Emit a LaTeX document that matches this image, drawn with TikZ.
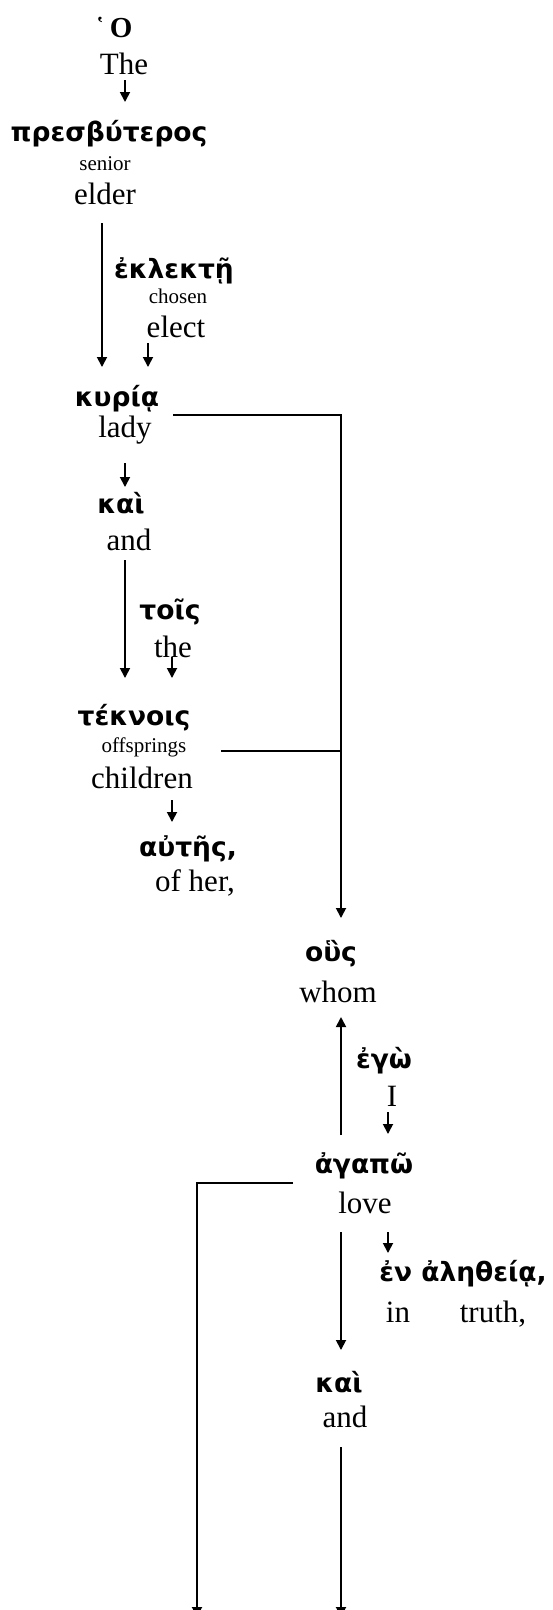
\documentclass[tikz,border=0pt]{standalone}
\usepackage{fontspec}
\setmainfont{Liberation Serif}
\newfontfamily\grk[Script=Greek]{DejaVu Sans Bold}
\usetikzlibrary{arrows.meta,calc}
\tikzset{
  gk/.style={font=\grk\fontsize{26.5}{30}\selectfont, anchor=base, inner sep=0pt},
  gl/.style={font=\fontsize{31}{34}\selectfont, anchor=base, inner sep=0pt},
  sm/.style={font=\fontsize{21}{24}\selectfont, anchor=base, inner sep=0pt},
  arr/.style={line width=1.8pt, -{Triangle[length=10pt,width=10pt]}},
  ln/.style={line width=1.6pt},
}
\begin{document}
\begin{tikzpicture}[x=1pt,y=-1pt]
\useasboundingbox (0,0) rectangle (552,1610);
% words
\node[anchor=base, inner sep=0pt, font=\bfseries\fontsize{29}{32}\selectfont] (ho) at (114,37) {῾\,Ο};
\node[gl] (the) at (124,74) {The};
\node[gk] (presb) at (109,141) {πρεσβύτερος};
\node[sm] (senior) at (105,170) {senior};
\node[gl] (elder) at (105,204) {elder};
\node[gk] (eklekte) at (174,278) {ἐκλεκτῇ};
\node[sm] (chosen) at (178,303) {chosen};
\node[gl] (elect) at (176,337) {elect};
\node[gk] (kyria) at (117,406) {κυρίᾳ};
\node[gl] (lady) at (125,437) {lady};
\node[gk] (kai1) at (121,513) {καὶ};
\node[gl] (and1) at (129,550) {and};
\node[gk] (tois) at (170,619) {τοῖς};
\node[gl] (the2) at (173,657) {the};
\node[gk] (teknois) at (134,725) {τέκνοις};
\node[sm] (offsprings) at (144,752) {offsprings};
\node[gl] (children) at (142,788) {children};
\node[gk] (autes) at (188,856) {αὐτῆς,};
\node[gl] (ofher) at (195,891) {of her,};
\node[gk] (hous) at (331,961) {οὓς};
\node[gl] (whom) at (338,1002) {whom};
\node[gk] (ego) at (384,1068) {ἐγὼ};
\node[gl] (I) at (392,1106) {I};
\node[gk] (agapo) at (364,1173) {ἀγαπῶ};
\node[gl] (love) at (365,1213) {love};
\node[gk] (enal) at (463,1281) {ἐν ἀληθείᾳ,};
\node[gl] (in) at (398,1322) {in};
\node[gl] (truth) at (493,1322) {truth,};
\node[gk] (kai2) at (339,1392) {καὶ};
\node[gl] (and2) at (345,1427) {and};
\coordinate (vline) at ($(hous.base)+(10,0)$);
\coordinate (bottomL) at (197,1617);
\coordinate (bottomR) at ($(and2.base)+(-4,190)$);
% connectors
\draw[arr] ($(the.base)+(1,6)$) -- ($(presb.base)+(16,-39)$);
\draw[arr] ($(elder.base)+(-3,19)$) -- ($(kyria.base)+(-15,-39)$);
\draw[arr] ($(elect.base)+(-28,6)$) -- ($(kyria.base)+(31,-39)$);
\draw[arr] ($(kyria.base)+(56,9)$) -| ($(hous.base)+(10,-43)$);
\draw[arr] ($(lady.base)+(0,26)$) -- ($(kai1.base)+(4,-26)$);
\draw[arr] ($(and1.base)+(-4,10)$) -- ($(teknois.base)+(-9,-47)$);
\draw[arr] ($(the2.base)+(-1,0)$) -- ($(teknois.base)+(38,-47)$);
\draw[ln] ($(offsprings.base)+(77,-1)$) coordinate (h0) -- (h0 -| vline);
\draw[arr] ($(children.base)+(30,12)$) -- ($(autes.base)+(-16,-34)$);
\draw[arr] ($(agapo.base)+(-23,-38)$) -- ($(whom.base)+(3,15)$);
\draw[arr] ($(I.base)+(-4,6)$) -- ($(agapo.base)+(24,-39)$);
\draw[arr] ($(agapo.base)+(-71,10)$) -| (bottomL);
\draw[arr] ($(love.base)+(23,19)$) -- ($(enal.base)+(-75,-28)$);
\draw[arr] ($(love.base)+(-24,19)$) -- ($(kai2.base)+(2,-42)$);
\draw[arr] ($(and2.base)+(-4,20)$) -- (bottomR);
\end{tikzpicture}
\end{document}
